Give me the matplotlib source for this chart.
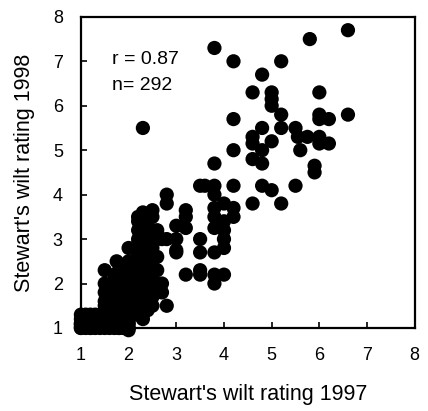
import matplotlib.pyplot as plt

# Stewart's wilt ratings, one entry per plot (n = 292)
rating_1997 = [
    1.0, 1.0, 1.0, 1.0, 1.0, 1.0, 1.0,
    1.1, 1.1, 1.1, 1.1,
    1.2, 1.2, 1.2, 1.2, 1.2, 1.2,
    1.3, 1.3, 1.3, 1.3,
    1.4, 1.4, 1.4,
    1.5, 1.5, 1.5, 1.5, 1.5, 1.5, 1.5, 1.5, 1.5, 1.5, 1.5,
    1.6, 1.6, 1.6, 1.6, 1.6,
    1.7, 1.7, 1.7, 1.7, 1.7, 1.7, 1.7, 1.7, 1.7, 1.7, 1.7, 1.7, 1.7,
    1.75,
    1.8, 1.8, 1.8, 1.8, 1.8, 1.8, 1.8, 1.8, 1.8, 1.8, 1.8, 1.8, 1.8, 1.8, 1.8,
    1.8, 1.8, 1.8, 1.8, 1.8,
    1.9, 1.9, 1.9, 1.9, 1.9, 1.9, 1.9, 1.9, 1.9, 1.9, 1.9, 1.9, 1.9, 1.9,
    1.9, 1.9, 1.9, 1.9, 1.9,
    2.0, 2.0, 2.0, 2.0, 2.0, 2.0, 2.0, 2.0, 2.0, 2.0, 2.0, 2.0, 2.0, 2.0, 2.0,
    2.0, 2.0, 2.0, 2.0, 2.0, 2.0, 2.0, 2.0, 2.0, 2.0, 2.0, 2.0,
    2.1, 2.1, 2.1, 2.1, 2.1, 2.1,
    2.2, 2.2, 2.2, 2.2, 2.2, 2.2, 2.2, 2.2, 2.2, 2.2, 2.2, 2.2, 2.2, 2.2, 2.2,
    2.2, 2.2, 2.2, 2.2, 2.2, 2.2, 2.2, 2.2, 2.2, 2.2, 2.2, 2.2, 2.2,
    2.3, 2.3, 2.3, 2.3, 2.3, 2.3, 2.3, 2.3, 2.3, 2.3, 2.3, 2.3, 2.3, 2.3, 2.3,
    2.3, 2.3, 2.3, 2.3, 2.3, 2.3, 2.3, 2.3, 2.3, 2.3, 2.3,
    2.4, 2.4, 2.4, 2.4, 2.4, 2.4, 2.4, 2.4, 2.4, 2.4, 2.4, 2.4, 2.4,
    2.5, 2.5, 2.5, 2.5, 2.5, 2.5, 2.5, 2.5, 2.5, 2.5, 2.5, 2.5, 2.5, 2.5,
    2.6, 2.6, 2.6, 2.6, 2.6, 2.6,
    2.7, 2.7, 2.7,
    2.8, 2.8, 2.8, 2.8,
    3.0, 3.0, 3.0, 3.0,
    3.2, 3.2, 3.2, 3.2,
    3.5, 3.5, 3.5, 3.5, 3.5,
    3.6,
    3.8, 3.8, 3.8, 3.8, 3.8, 3.8, 3.8, 3.8, 3.8, 3.8,
    4.0, 4.0, 4.0, 4.0, 4.0, 4.0,
    4.2, 4.2, 4.2, 4.2, 4.2, 4.2,
    4.6, 4.6, 4.6, 4.6, 4.6,
    4.8, 4.8, 4.8, 4.8, 4.8,
    5.0, 5.0, 5.0, 5.0, 5.0,
    5.2, 5.2, 5.2, 5.2,
    5.5, 5.5,
    5.55, 5.6, 5.75, 5.8,
    5.9, 5.9,
    6.0, 6.0, 6.0, 6.0, 6.0,
    6.2, 6.2,
    6.6, 6.6,
]

rating_1998 = [
    1.0, 1.05, 1.1, 1.2, 1.3, 1.0, 1.1,
    1.0, 1.1, 1.2, 1.3,
    1.0, 1.1, 1.2, 1.3, 1.0, 1.2,
    1.0, 1.1, 1.2, 1.3,
    1.0, 1.1, 1.2,
    1.0, 1.1, 1.2, 1.3, 1.5, 1.6, 1.8, 2.0, 2.3, 1.1, 1.4,
    1.0, 1.1, 1.2, 1.3, 1.4,
    1.0, 1.1, 1.2, 1.3, 1.4, 1.5, 1.6, 1.8, 2.0, 2.2, 1.1, 1.3, 1.5,
    2.5,
    1.0, 1.0, 1.1, 1.2, 1.2, 1.3, 1.4, 1.5, 1.6, 1.7, 1.8, 1.9, 2.0, 2.2, 2.3,
    1.1, 1.4, 1.6, 1.8, 2.0,
    1.0, 1.0, 1.1, 1.2, 1.3, 1.3, 1.4, 1.5, 1.6, 1.7, 1.8, 2.0, 2.2, 2.4,
    1.1, 1.5, 1.7, 1.9, 2.1,
    0.95, 1.0, 1.0, 1.1, 1.2, 1.2, 1.3, 1.4, 1.5, 1.5, 1.6, 1.7, 1.8, 1.9, 2.0,
    2.0, 2.1, 2.2, 2.3, 2.5, 2.8, 1.1, 1.3, 1.4, 1.6, 1.8, 2.2,
    1.3, 1.5, 1.7, 2.0, 2.2, 2.5,
    1.3, 1.5, 1.6, 1.7, 1.8, 1.9, 2.0, 2.0, 2.1, 2.2, 2.3, 2.4, 2.5, 2.5, 2.6,
    2.7, 2.8, 3.0, 3.2, 3.4, 3.5, 1.4, 1.6, 1.8, 2.2, 2.4, 2.6, 2.9,
    1.2, 1.3, 1.5, 1.7, 1.8, 2.0, 2.0, 2.2, 2.3, 2.5, 2.5, 2.7, 2.8, 3.0, 3.1,
    3.3, 3.5, 3.6, 5.5, 1.4, 1.6, 1.9, 2.1, 2.4, 2.6, 2.9,
    1.4, 1.6, 1.8, 2.0, 2.2, 2.4, 2.6, 2.8, 3.0, 3.2, 3.4, 1.9, 2.5,
    1.5, 1.7, 1.9, 2.0, 2.2, 2.4, 2.6, 2.8, 3.0, 3.2, 3.5, 3.65, 2.1, 2.5,
    1.8, 2.0, 2.3, 2.6, 3.0, 3.2,
    1.8, 2.0, 3.0,
    1.5, 3.0, 3.8, 4.0,
    2.7, 2.75, 3.0, 3.3,
    2.2, 3.25, 3.5, 3.65,
    2.2, 2.3, 2.7, 3.0, 4.2,
    4.2,
    2.0, 2.2, 2.7, 3.25, 3.5, 3.7, 4.0, 4.2, 4.7, 7.3,
    2.2, 2.8, 3.0, 3.2, 3.4, 3.8,
    3.5, 3.7, 4.2, 5.0, 5.7, 7.0,
    3.8, 4.8, 5.15, 5.3, 6.3,
    4.2, 4.7, 5.0, 5.5, 6.7,
    4.1, 5.2, 6.0, 6.15, 6.3,
    3.8, 5.5, 5.8, 7.0,
    4.2, 5.5,
    5.3, 5.0, 5.3, 7.5,
    4.5, 4.65,
    5.15, 5.3, 5.7, 5.8, 6.3,
    5.15, 5.7,
    5.8, 7.7,
]

r_value = 0.87
n_plots = len(rating_1997)

plt.rcParams['font.family'] = ['Liberation Sans', 'DejaVu Sans']

fig = plt.figure(figsize=(4.28, 4.11), dpi=100)
ax = fig.add_axes([0.189, 0.202, 0.780, 0.757])

ax.scatter(rating_1997, rating_1998, s=105, color='black', edgecolors='none',
           clip_on=False, zorder=3)

ax.set_xlim(1, 8)
ax.set_ylim(1, 8)
ax.set_xticks(range(1, 9))
ax.set_yticks(range(1, 9))

ax.tick_params(direction='in', length=4, width=1.2, labelsize=13,
               top=False, right=False)
ax.tick_params(axis='x', pad=14)
ax.tick_params(axis='y', pad=13)
for sp in ax.spines.values():
    sp.set_linewidth(1.6)
    sp.set_color('black')

ax.set_xlabel("Stewart's wilt rating 1997", fontsize=15.5, labelpad=14)
ax.set_ylabel("Stewart's wilt rating 1998", fontsize=15.5, labelpad=13)

ax.text(1.65, 7.04, f"r = {r_value}", fontsize=14, ha='left', va='center')
ax.text(1.65, 6.45, f"n= {n_plots}", fontsize=14, ha='left', va='center')

plt.savefig('out.png', dpi=100)
